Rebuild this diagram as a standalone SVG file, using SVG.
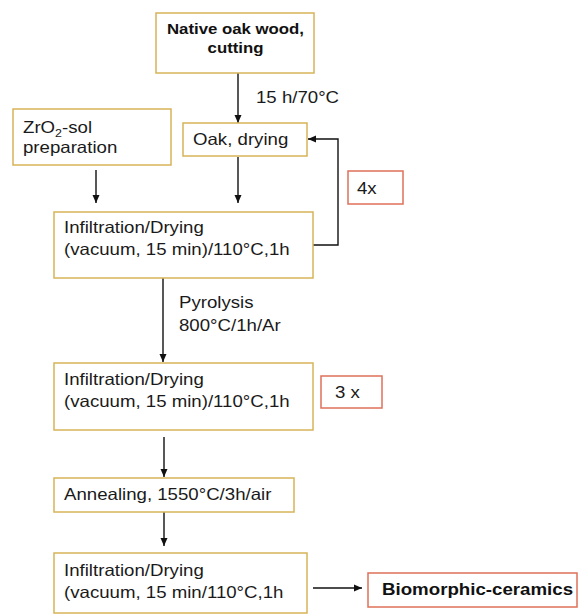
<svg xmlns="http://www.w3.org/2000/svg" width="581" height="616" viewBox="0 0 581 616">
<defs>
<style>
.box{fill:#fff;stroke:#d8b458;stroke-width:1.5}
.rbox{fill:#fff;stroke:#e0705a;stroke-width:1.5}
.t{font-family:"Liberation Sans",Arial,sans-serif;font-size:16.5px;fill:#1a1a1a}
.b{font-family:"Liberation Sans",Arial,sans-serif;font-size:15px;font-weight:bold;fill:#111}
.c{fill:none;stroke:#111;stroke-width:1.4}
</style>
<marker id="ah" markerUnits="userSpaceOnUse" markerWidth="9" markerHeight="8" refX="8" refY="4" orient="auto">
<path d="M0,0.5 L8,4 L0,7.5 z" fill="#111"/>
</marker>
</defs>
<rect width="581" height="616" fill="#fff"/>
<g id="connectors">
<line class="c" x1="238" y1="73" x2="238" y2="123" marker-end="url(#ah)"/>
<line class="c" x1="96" y1="170" x2="96" y2="203" marker-end="url(#ah)"/>
<line class="c" x1="238" y1="157" x2="238" y2="203" marker-end="url(#ah)"/>
<polyline class="c" points="313,245 338,245 338,139 308,139" marker-end="url(#ah)"/>
<line class="c" x1="163" y1="278" x2="163" y2="362" marker-end="url(#ah)"/>
<line class="c" x1="164" y1="437" x2="164" y2="477" marker-end="url(#ah)"/>
<line class="c" x1="164" y1="512" x2="164" y2="546" marker-end="url(#ah)"/>
<line class="c" x1="313" y1="588" x2="362" y2="588" marker-end="url(#ah)"/>
<text class="t" transform="translate(256,103) scale(1.13,1)">15 h/70°C</text>
<text class="t" transform="translate(179,308) scale(1.13,1)">Pyrolysis</text>
<text class="t" transform="translate(179,331) scale(1.13,1)">800°C/1h/Ar</text>
</g>
<g id="n-native">
<rect class="box" x="156" y="13" width="158" height="60"/>
<text class="b" text-anchor="middle" transform="translate(235.5,34) scale(1.12,1)">Native oak wood,</text>
<text class="b" text-anchor="middle" transform="translate(235.5,53) scale(1.12,1)">cutting</text>
</g>
<g id="n-zro2">
<rect class="box" x="13" y="109" width="158" height="56"/>
<text class="t" transform="translate(23,133) scale(1.13,1)">ZrO<tspan font-size="11" dy="4">2</tspan><tspan dy="-4">-sol</tspan></text>
<text class="t" transform="translate(23,153) scale(1.13,1)">preparation</text>
</g>
<g id="n-oak">
<rect class="box" x="183" y="123" width="124" height="33"/>
<text class="t" transform="translate(193,145) scale(1.13,1)">Oak, drying</text>
</g>
<g id="n-4x">
<rect class="rbox" x="348" y="171" width="55" height="33"/>
<text class="t" transform="translate(357,194) scale(1.13,1)">4x</text>
</g>
<g id="n-infil1">
<rect class="box" x="54" y="212" width="259" height="66"/>
<text class="t" transform="translate(64,233) scale(1.13,1)">Infiltration/Drying</text>
<text class="t" transform="translate(64,255) scale(1.13,1)">(vacuum, 15 min)/110°C,1h</text>
</g>
<g id="n-infil2">
<rect class="box" x="54" y="363" width="259" height="67"/>
<text class="t" transform="translate(64,385) scale(1.13,1)">Infiltration/Drying</text>
<text class="t" transform="translate(64,407) scale(1.13,1)">(vacuum, 15 min)/110°C,1h</text>
</g>
<g id="n-3x">
<rect class="rbox" x="321" y="376" width="61" height="32"/>
<text class="t" transform="translate(335,398) scale(1.13,1)">3 x</text>
</g>
<g id="n-anneal">
<rect class="box" x="54" y="478" width="240" height="34"/>
<text class="t" transform="translate(64,500) scale(1.13,1)">Annealing, 1550°C/3h/air</text>
</g>
<g id="n-infil3">
<rect class="box" x="54" y="553" width="253" height="60"/>
<text class="t" transform="translate(64,576) scale(1.13,1)">Infiltration/Drying</text>
<text class="t" transform="translate(64,598) scale(1.13,1)">(vacuum, 15 min/110°C,1h</text>
</g>
<g id="n-bio">
<rect class="rbox" x="368" y="573" width="209" height="34"/>
<text class="b" style="font-size:17px" transform="translate(382,595) scale(1.1,1)">Biomorphic-ceramics</text>
</g>
</svg>
